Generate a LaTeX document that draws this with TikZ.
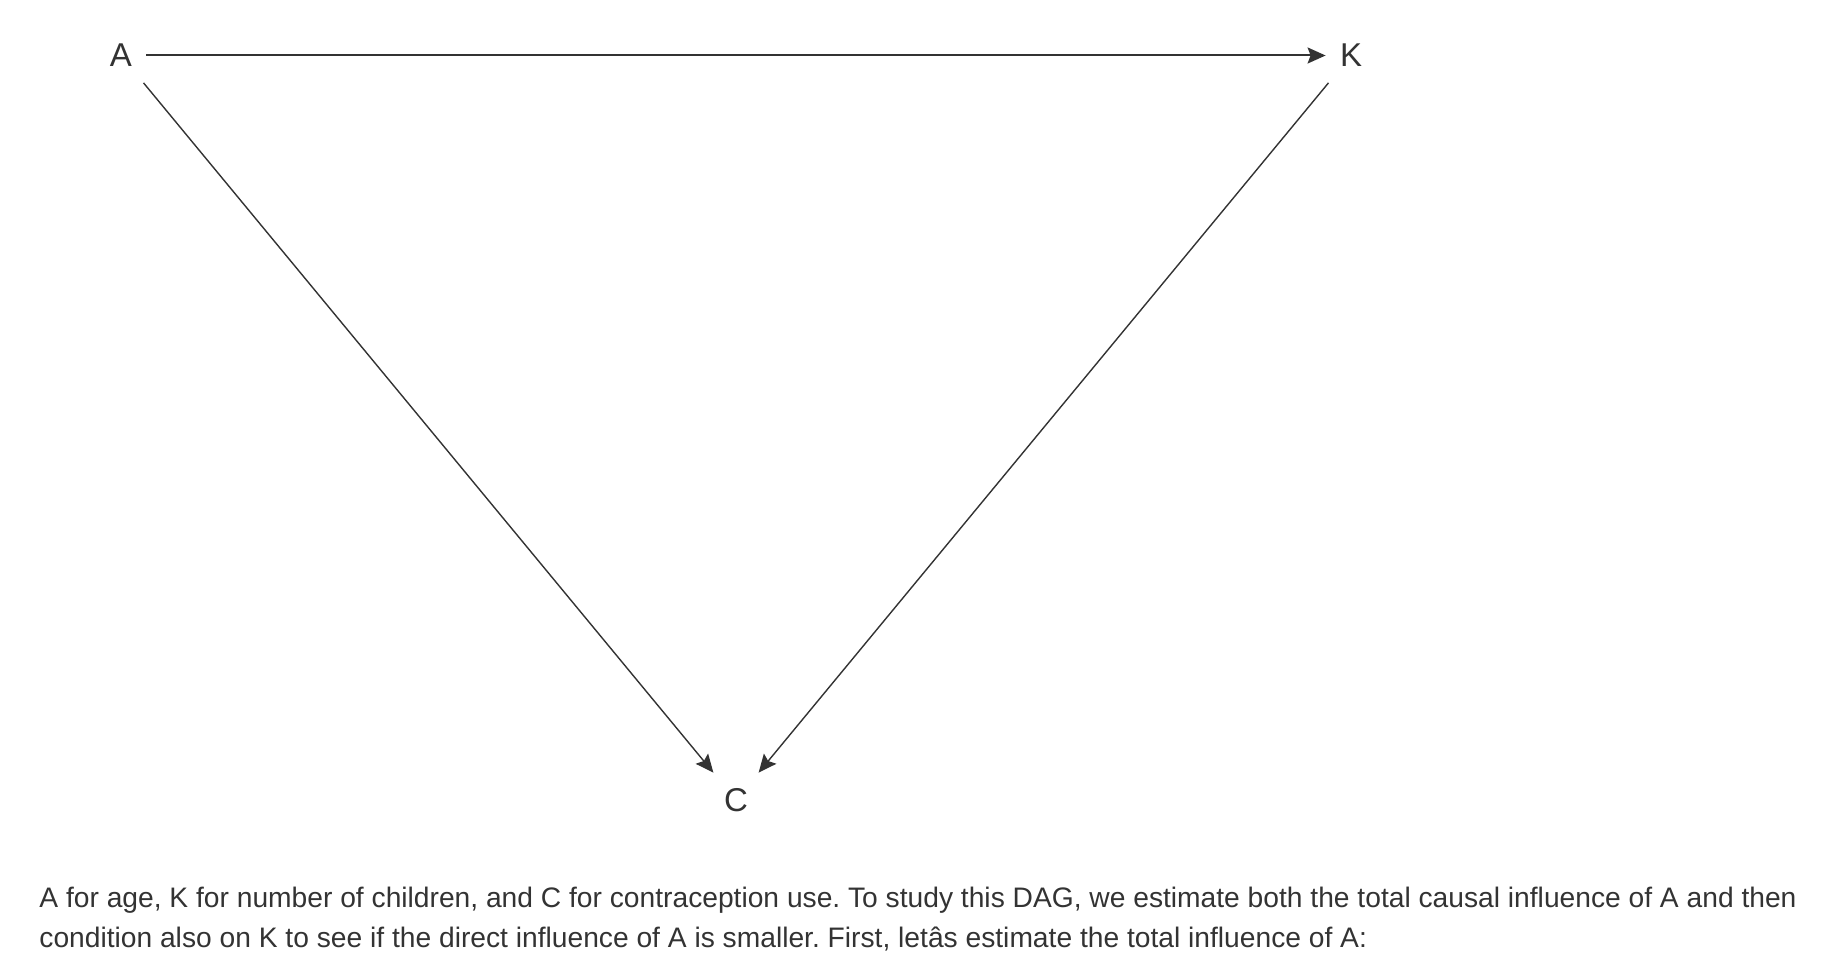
\documentclass[tikz,border=0pt]{standalone}
\usepackage{fontspec}
\setmainfont{Liberation Sans}
\usetikzlibrary{arrows.meta}
\definecolor{txtgray}{HTML}{333333}
\frenchspacing
\begin{document}
\begin{tikzpicture}[x=0.5pt,y=-0.5pt,
    var/.style = {rectangle, minimum width=25pt, minimum height=27pt, inner sep=0pt,
                  font=\fontsize{16.5}{19}\selectfont, text=txtgray},
    arc/.style = {-{Stealth[length=9pt,width=8pt,inset=1.5pt]}, black!80, line width=0.7pt},
    caption/.style = {anchor=base west, inner sep=0pt, text=txtgray,
                  font=\fontsize{14.1}{20}\selectfont}]
      \useasboundingbox (0,0) rectangle (1826,978);
      % the three variables
      \node (A) at (121,55.5) [var] {A};
      \node (K) at (1351,55.5) [var] {K};
      \node (C) at (736,800) [var] {C};
      % arcs of the DAG
      \draw [arc, line width=1pt] (A) -- (K);
      \draw [arc] (A) -- (C);
      \draw [arc] (K) -- (C);
      % text under the graph
      \node (line1) at (39,907) [caption] {A for age, K for number of children, and C for contraception use. To study this DAG, we estimate both the total causal influence of A and then};
      \node (line2) at (39,947) [caption] {condition also on K to see if the direct influence of A is smaller. First, letâs estimate the total influence of A:};
\end{tikzpicture}
\end{document}
